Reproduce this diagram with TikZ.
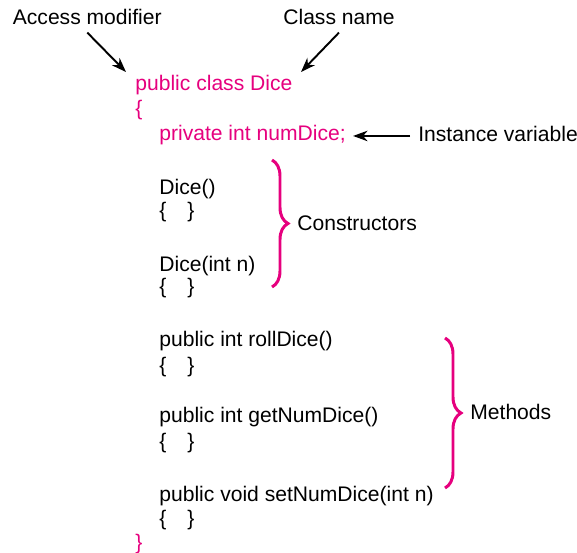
\documentclass[tikz,border=0pt]{standalone}
\usepackage{fontspec}
\setmainfont{Liberation Sans}
\usetikzlibrary{arrows.meta, positioning, decorations.pathreplacing}
\definecolor{codepink}{RGB}{230,0,126}

\begin{document}
\begin{tikzpicture}[
    code/.style={anchor=base west, inner sep=0pt, font=\fontsize{12}{14}\selectfont},
    hot/.style={code, text=codepink},
    label/.style={anchor=base west, inner sep=0pt, font=\fontsize{12}{14}\selectfont},
    arrow/.style={-{Stealth[length=2.9mm, width=2.1mm, inset=0.9mm]}, line width=1.1pt},
    brace/.style={decorate, decoration={brace, amplitude=0.32cm}, draw=codepink,
                  line width=1.7pt}
]
\useasboundingbox (0,0) rectangle (11.54,-11.06);

% Class header
\node[hot] (cls)    at (2.70,-1.82) {public class Dice};
\node[hot] (lbrace) at (2.70,-2.32) {\{};
\node[hot] (field)  at (3.18,-2.82) {private int numDice;};

% Constructors
\node[code] (ctorA)     at (3.18,-3.90) {Dice()};
\node[code] (ctorAbody) at (3.18,-4.36) {\{\quad\}};
\node[code] (ctorB)     at (3.18,-5.44) {Dice(int n)};
\node[code] (ctorBbody) at (3.18,-5.88) {\{\quad\}};

% Methods
\node[code] (roll)     at (3.18,-6.94)  {public int rollDice()};
\node[code] (rollbody) at (3.18,-7.45)  {\{\quad\}};
\node[code] (getn)     at (3.18,-8.46)  {public int getNumDice()};
\node[code] (getnbody) at (3.18,-8.97)  {\{\quad\}};
\node[code] (setn)     at (3.18,-10.03) {public void setNumDice(int n)};
\node[code] (setnbody) at (3.18,-10.51) {\{\quad\}};
\node[hot]  (rbrace)   at (2.70,-10.98) {\}};

% Annotations
\node[label] (access)  at (0.25,-0.50) {Access modifier};
\node[label] (cname)   at (5.66,-0.50) {Class name};
\node[label] (inst)    at (8.36,-2.84) {Instance variable};
\node[label] (ctors)   at (5.94,-4.62) {Constructors};
\node[label] (methods) at (9.40,-8.40) {Methods};

\coordinate (accTip) at (2.52,-1.44);
\coordinate (clsTip) at (6.02,-1.44);

\draw[arrow] ([yshift=-0.14cm]access.south) -- (accTip);
\draw[arrow] ([yshift=-0.14cm]cname.south) -- (clsTip);
\draw[arrow] ([xshift=-0.16cm, yshift=-0.03cm]inst.west)
  -- ([xshift=0.14cm, yshift=-0.03cm]field.east |- inst.west);

% Braces
\draw[brace] (5.44,-3.20) -- (5.44,-5.74);
\draw[brace] (8.90,-6.76) -- (8.90,-9.76);
\end{tikzpicture}
\end{document}
